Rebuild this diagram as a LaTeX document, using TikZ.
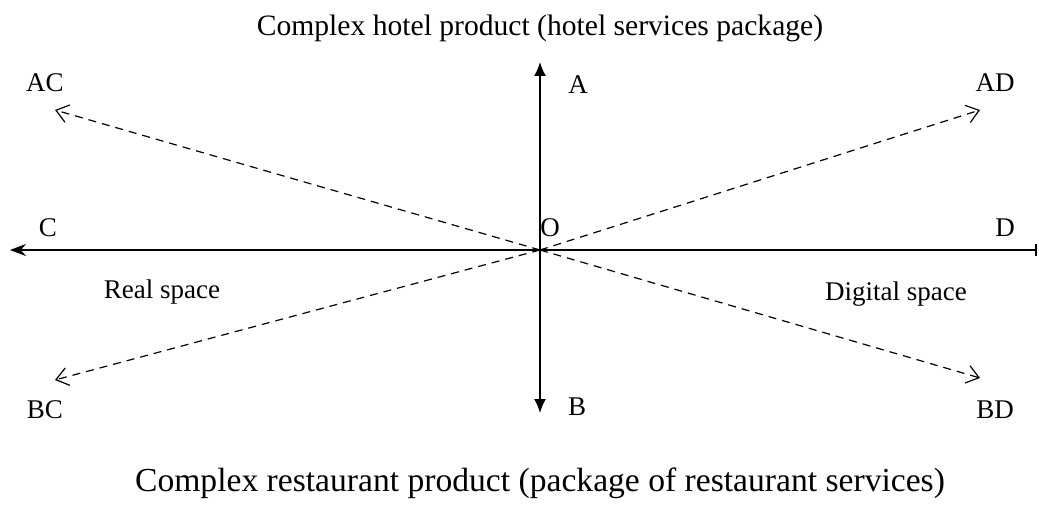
\documentclass[tikz,border=0pt]{standalone}
\usepackage{fontspec}
\setmainfont{Liberation Serif}
\usetikzlibrary{arrows.meta,positioning}

\tikzset{
  lbl/.style={inner sep=0pt,font=\fontsize{13.5}{15}\selectfont},
  ttl/.style={inner sep=0pt,font=\fontsize{14.8}{16}\selectfont},
  axis/.style={line width=0.8pt},
  diag/.style={line width=0.6pt,dash pattern=on 4pt off 3pt,-{Straight Barb[length=6pt,width=9pt]}}
}

\begin{document}
\begin{tikzpicture}[x=0.5pt,y=-0.5pt]
      \useasboundingbox (0,0) rectangle (1039,524);
      % axes
      \coordinate (O) at (540,250);
      \coordinate (Cend) at (10,250);
      \coordinate (Dend) at (1037,250);
      \coordinate (Aend) at (540,62);
      \coordinate (Bend) at (540,413);
      \coordinate (ACend) at (55,110);
      \coordinate (ADend) at (980,110);
      \coordinate (BCend) at (55,380);
      \coordinate (BDend) at (980,378);
      \draw[axis,-{Stealth[length=8pt,width=6pt]}] (O) -- (Cend);
      \draw[axis,-{Bar[width=6pt]}] (O) -- (Dend);
      \draw[axis,-{Latex[length=7pt,width=6pt]}] (O) -- (Aend);
      \draw[axis,-{Latex[length=7pt,width=6pt]}] (O) -- (Bend);
      \draw[diag] (O) -- (ACend);
      \draw[diag] (O) -- (ADend);
      \draw[diag] (O) -- (BCend);
      \draw[diag] (O) -- (BDend);
      % labels
      \node[ttl] (top) at (540,28) {Complex hotel product (hotel services package)};
      \node[ttl,font=\fontsize{16.8}{18}\selectfont] (bottom) at (540,483) {Complex restaurant product (package of restaurant services)};
      \node[lbl] (lAC) at (45,83) {AC};
      \node[lbl] (lA) at (578,85) {A};
      \node[lbl] (lAD) at (995,83) {AD};
      \node[lbl] (lC) at (48,228) {C};
      \node[lbl] (lO) at (550,228) {O};
      \node[lbl] (lD) at (1005,228) {D};
      \node[lbl] (real) at (162,292) {Real space};
      \node[lbl] (digital) at (896,294) {Digital space};
      \node[lbl] (lBC) at (45,410) {BC};
      \node[lbl] (lB) at (577,407) {B};
      \node[lbl] (lBD) at (995,410) {BD};
\end{tikzpicture}
\end{document}
